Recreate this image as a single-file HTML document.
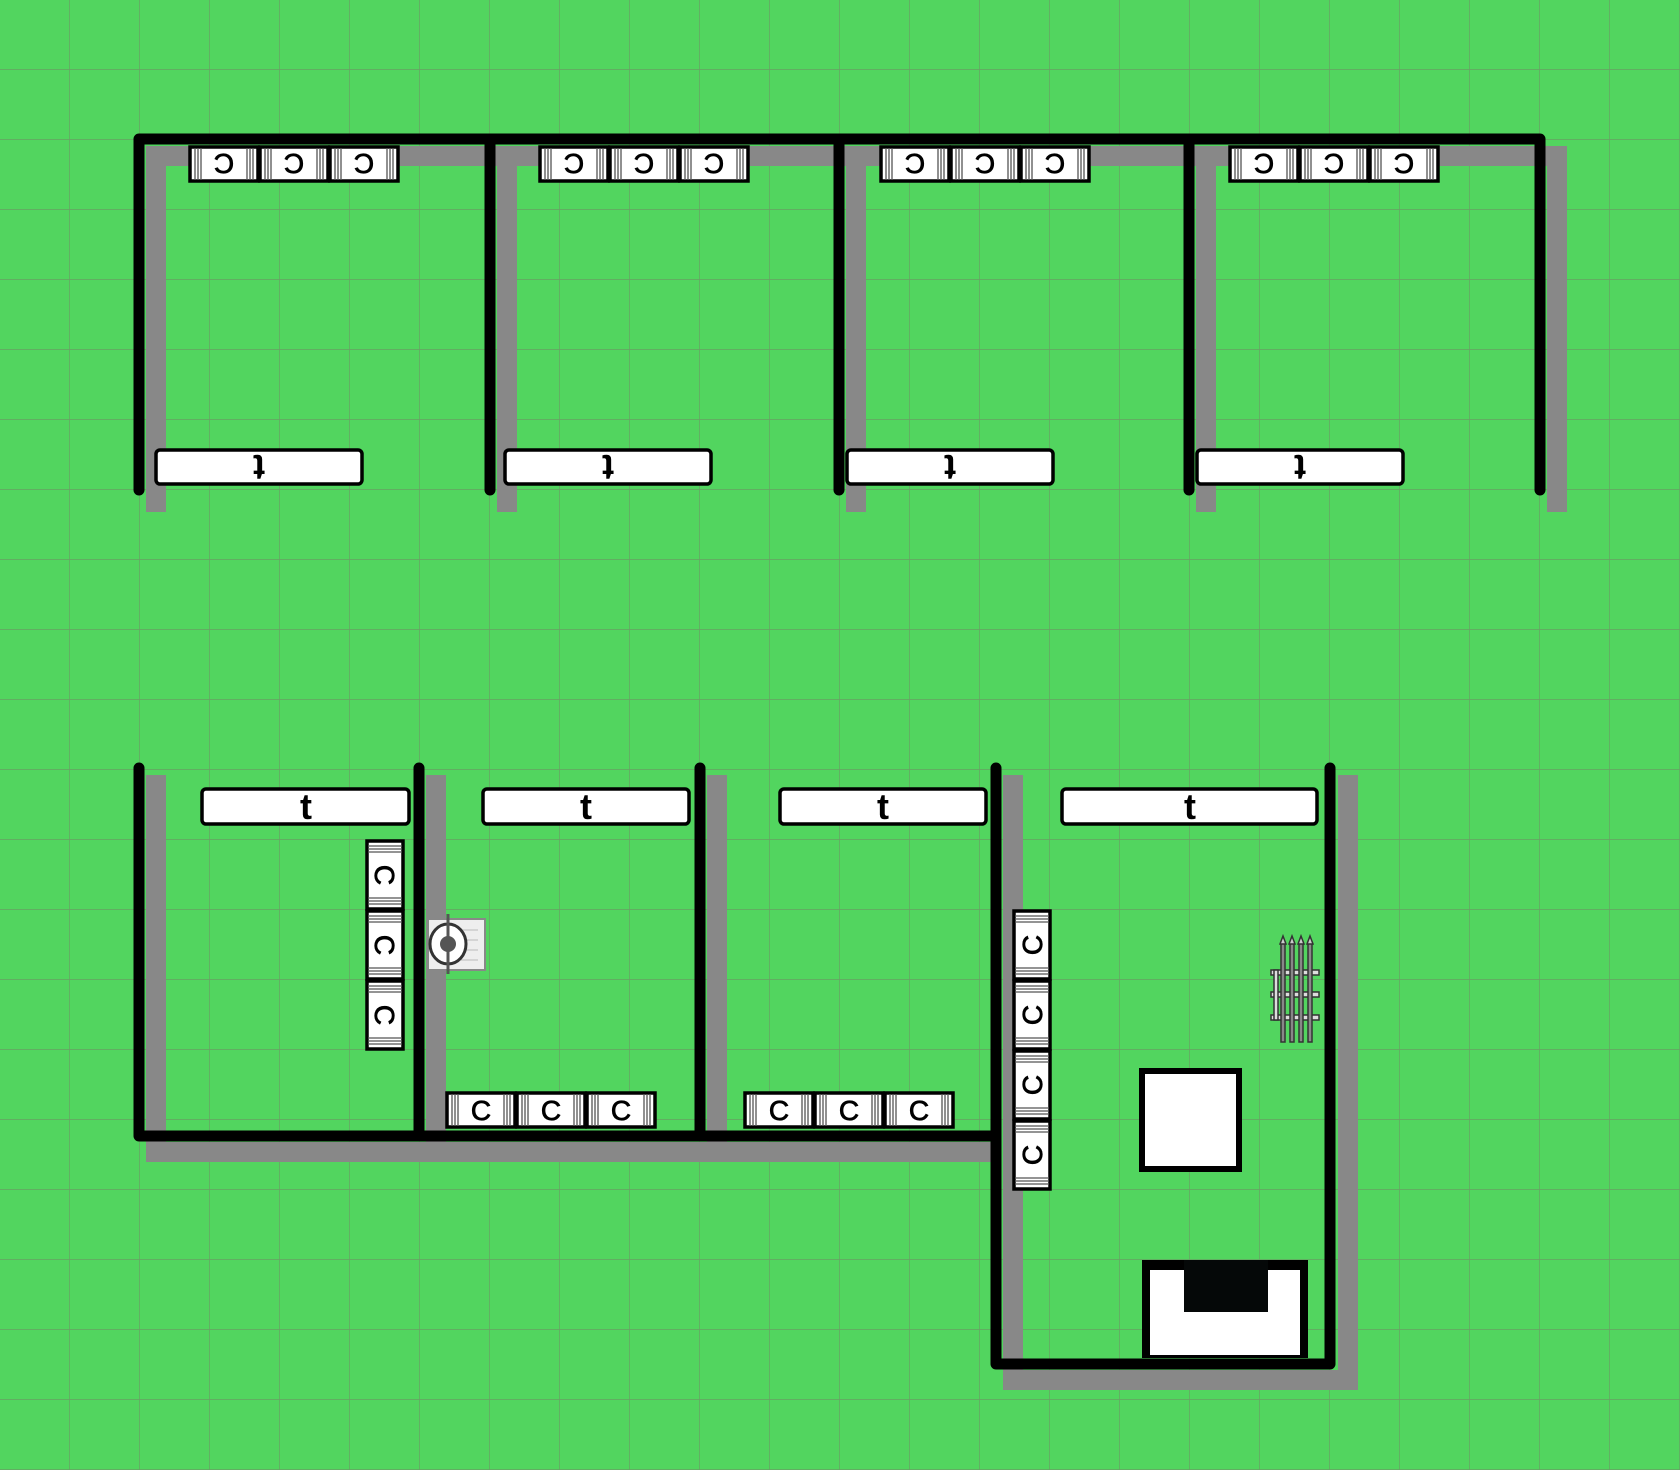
<!DOCTYPE html>
<html><head><meta charset="utf-8"><style>
html,body{margin:0;padding:0;width:1680px;height:1470px;overflow:hidden;background:#52d55f}
svg{display:block}
text{font-family:"Liberation Sans",sans-serif}
</style></head><body>
<svg width="1680" height="1470" viewBox="0 0 1680 1470" xmlns="http://www.w3.org/2000/svg">
<defs>
<pattern id="g" width="70" height="70" patternUnits="userSpaceOnUse">
<path d="M70 0V70M0 70H70" stroke="#68a064" stroke-width="1.4" fill="none"/>
</pattern>
<g id="chH">
<rect x="1" y="1" width="68" height="34" fill="#fff" stroke="#000" stroke-width="3.5"/>
<path d="M6 2V34M9 2V34M12 2V34M58 2V34M61 2V34M64 2V34" stroke="#555" stroke-width="1.3"/>
</g>
<g id="chV">
<rect x="1" y="1" width="36" height="68" fill="#fff" stroke="#000" stroke-width="3.5"/>
<path d="M2 6H36M2 9H36M2 12H36M2 58H36M2 61H36M2 64H36" stroke="#555" stroke-width="1.3"/>
</g>
</defs>
<rect width="1680" height="1470" fill="#52d55f"/>
<rect width="1680" height="1470" fill="url(#g)"/>

<g stroke="#888" stroke-width="20" fill="none" stroke-linejoin="miter">
<path d="M156 512V156H1557V512"/>
<path d="M507 512V156M856 512V156M1206 512V156"/>
<path d="M156 775V1152H1000"/>
<path d="M436 775V1152M717 775V1152"/>
<path d="M1013 775V1380H1348V775"/>
</g>
<g stroke="#000" stroke-width="11" fill="none" stroke-linecap="round" stroke-linejoin="round">
<path d="M139 490V139H1540V490"/>
<path d="M490 490V139M839 490V139M1189 490V139"/>
<path d="M139 768V1136H996"/>
<path d="M419 768V1136M700 768V1136"/>
<path d="M996 768V1364H1330V768"/>
</g>

<g>
<use href="#chH" x="189" y="146"/><use href="#chH" x="259" y="146"/><use href="#chH" x="329" y="146"/>
<use href="#chH" x="539" y="146"/><use href="#chH" x="609" y="146"/><use href="#chH" x="679" y="146"/>
<use href="#chH" x="880" y="146"/><use href="#chH" x="950" y="146"/><use href="#chH" x="1020" y="146"/>
<use href="#chH" x="1229" y="146"/><use href="#chH" x="1299" y="146"/><use href="#chH" x="1369" y="146"/>
</g>
<g font-size="28" text-anchor="middle" stroke="#000" stroke-width="0.8">
<text transform="translate(224,164) rotate(180)" y="10">C</text>
<text transform="translate(294,164) rotate(180)" y="10">C</text>
<text transform="translate(364,164) rotate(180)" y="10">C</text>
<text transform="translate(574,164) rotate(180)" y="10">C</text>
<text transform="translate(644,164) rotate(180)" y="10">C</text>
<text transform="translate(714,164) rotate(180)" y="10">C</text>
<text transform="translate(915,164) rotate(180)" y="10">C</text>
<text transform="translate(985,164) rotate(180)" y="10">C</text>
<text transform="translate(1055,164) rotate(180)" y="10">C</text>
<text transform="translate(1264,164) rotate(180)" y="10">C</text>
<text transform="translate(1334,164) rotate(180)" y="10">C</text>
<text transform="translate(1404,164) rotate(180)" y="10">C</text>
</g>

<g fill="#fff" stroke="#000" stroke-width="3.5">
<rect x="156" y="450" width="206" height="34" rx="4"/>
<rect x="505" y="450" width="206" height="34" rx="4"/>
<rect x="847" y="450" width="206" height="34" rx="4"/>
<rect x="1197" y="450" width="206" height="34" rx="4"/>
<rect x="202" y="789" width="207" height="35" rx="4"/>
<rect x="483" y="789" width="206" height="35" rx="4"/>
<rect x="780" y="789" width="206" height="35" rx="4"/>
<rect x="1062" y="789" width="255" height="35" rx="4"/>
</g>
<g font-size="36" font-weight="bold" text-anchor="middle">
<text transform="translate(259,467) rotate(180)" y="12">t</text>
<text transform="translate(608,467) rotate(180)" y="12">t</text>
<text transform="translate(950,467) rotate(180)" y="12">t</text>
<text transform="translate(1300,467) rotate(180)" y="12">t</text>
<text x="306" y="819">t</text>
<text x="586" y="819">t</text>
<text x="883" y="819">t</text>
<text x="1190" y="819">t</text>
</g>

<use href="#chV" x="366" y="840"/><use href="#chV" x="366" y="910"/><use href="#chV" x="366" y="980"/>
<use href="#chH" x="446" y="1092"/><use href="#chH" x="516" y="1092"/><use href="#chH" x="586" y="1092"/>
<use href="#chH" x="744" y="1092"/><use href="#chH" x="814" y="1092"/><use href="#chH" x="884" y="1092"/>
<use href="#chV" x="1013" y="910"/><use href="#chV" x="1013" y="980"/><use href="#chV" x="1013" y="1050"/><use href="#chV" x="1013" y="1120"/>
<g font-size="28" text-anchor="middle" stroke="#000" stroke-width="0.8">
<text transform="translate(385,875) rotate(90)" y="10">C</text>
<text transform="translate(385,945) rotate(90)" y="10">C</text>
<text transform="translate(385,1015) rotate(90)" y="10">C</text>
<text transform="translate(1032,945) rotate(-90)" y="10">C</text>
<text transform="translate(1032,1015) rotate(-90)" y="10">C</text>
<text transform="translate(1032,1085) rotate(-90)" y="10">C</text>
<text transform="translate(1032,1155) rotate(-90)" y="10">C</text>
<text x="481" y="1120">C</text><text x="551" y="1120">C</text><text x="621" y="1120">C</text>
<text x="779" y="1120">C</text><text x="849" y="1120">C</text><text x="919" y="1120">C</text>
</g>

<g>
<rect x="428" y="919" width="57" height="51" fill="#eee" stroke="#888" stroke-width="2"/>
<path d="M440 930H478M440 940H478M440 950H478M440 960H478" stroke="#bbb" stroke-width="1"/>
<ellipse cx="448" cy="944" rx="18" ry="20" fill="#fff" stroke="#333" stroke-width="3"/>
<circle cx="448" cy="944" r="8" fill="#555"/>
<path d="M448 914V974" stroke="#555" stroke-width="3"/>
</g>

<rect x="1142" y="1071" width="97" height="98" fill="#fff" stroke="#000" stroke-width="6"/>
<rect x="1142" y="1260" width="166" height="98" fill="#000"/>
<rect x="1150" y="1270" width="150" height="85" fill="#fff"/>
<rect x="1184" y="1260" width="84" height="52" fill="#050808"/>

<g stroke="#333" stroke-width="1.5">
<rect x="1271" y="970" width="48" height="5" fill="#ddd"/>
<rect x="1271" y="992" width="48" height="5" fill="#ddd"/>
<rect x="1271" y="1015" width="48" height="5" fill="#ddd"/>
<rect x="1274" y="970" width="4" height="50" fill="#ddd"/>
<rect x="1281" y="942" width="4" height="100" fill="#888"/>
<rect x="1290" y="942" width="4" height="100" fill="#888"/>
<rect x="1299" y="942" width="4" height="100" fill="#888"/>
<rect x="1308" y="942" width="4" height="100" fill="#888"/>
<path d="M1283 936l-3 8h6zM1292 936l-3 8h6zM1301 936l-3 8h6zM1310 936l-3 8h6z" fill="#ccc"/>
</g>
</svg>
</body></html>
